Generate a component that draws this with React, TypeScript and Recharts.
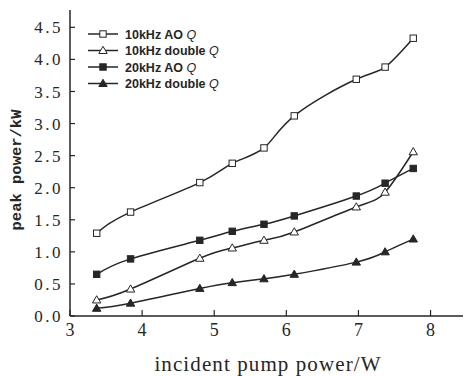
import React from 'react';
import { LineChart, Line, XAxis, YAxis } from 'recharts';

// pump power (W) at which each series was measured
const PUMP_W = [3.37, 3.84, 4.8, 5.25, 5.69, 6.11, 6.97, 7.37, 7.76];
// peak power (kW)
const AO_10K = [1.29, 1.62, 2.08, 2.38, 2.62, 3.12, 3.69, 3.88, 4.33];
const DOUBLE_10K = [0.25, 0.42, 0.9, 1.06, 1.18, 1.31, 1.7, 1.93, 2.56];
const AO_20K = [0.65, 0.89, 1.18, 1.32, 1.43, 1.56, 1.87, 2.07, 2.3];
const DOUBLE_20K = [0.12, 0.2, 0.43, 0.52, 0.58, 0.65, 0.84, 1.0, 1.2];

const X_MAJOR = [3, 4, 5, 6, 7, 8];
const X_MINOR = [3.5, 4.5, 5.5, 6.5, 7.5];
const X_ALL = [3, 3.5, 4, 4.5, 5, 5.5, 6, 6.5, 7, 7.5, 8];
const Y_MAJOR = [0, 0.5, 1, 1.5, 2, 2.5, 3, 3.5, 4, 4.5];
const Y_MINOR = [0.25, 0.75, 1.25, 1.75, 2.25, 2.75, 3.25, 3.75, 4.25];
const Y_ALL = [0, 0.25, 0.5, 0.75, 1, 1.25, 1.5, 1.75, 2, 2.25, 2.5, 2.75, 3, 3.25, 3.5, 3.75, 4, 4.25, 4.5];

const SERIES = [
  { key: 'ao10', name: '10kHz AO', values: AO_10K, shape: 'square', filled: false },
  { key: 'dq10', name: '10kHz double', values: DOUBLE_10K, shape: 'triangle', filled: false },
  { key: 'ao20', name: '20kHz AO', values: AO_20K, shape: 'square', filled: true },
  { key: 'dq20', name: '20kHz double', values: DOUBLE_20K, shape: 'triangle', filled: true },
];

const INK = '#262626';
const W = 467;
const H = 376;
const SERIF = "'Liberation Serif', 'Times New Roman', Times, serif";
const SANS = "'Liberation Sans', Arial, Helvetica, sans-serif";
const MONO = "'Liberation Mono', 'Courier New', Courier, monospace";

const data = PUMP_W.map((x, i) => {
  const row: Record<string, number> = { x };
  SERIES.forEach(s => (row[s.key] = s.values[i]));
  return row;
});

const Marker = ({ cx, cy, shape, filled }: { cx: number; cy: number; shape: string; filled: boolean }) => {
  const fill = filled ? INK : '#fff';
  if (shape === 'square') {
    return <rect x={cx - 3.2} y={cy - 3.2} width={6.4} height={6.4} fill={fill} stroke={INK} strokeWidth={1} />;
  }
  return (
    <polygon
      points={`${cx},${cy - 4.2} ${cx - 4.2},${cy + 3} ${cx + 4.2},${cy + 3}`}
      fill={fill}
      stroke={INK}
      strokeWidth={1}
    />
  );
};

const axisLine = { stroke: INK, strokeWidth: 1.5 };
const tickLine = { stroke: INK, strokeWidth: 1.2 };

export default function App() {
  return (
    <div style={{ position: 'absolute', left: 0, top: 0, width: W, height: H, background: '#fff' }}>
      <LineChart width={W} height={H} data={data} margin={{ top: 10, right: 4, bottom: 0, left: 0 }}>
        <XAxis
          xAxisId="b"
          dataKey="x"
          type="number"
          domain={[3, 8.45]}
          ticks={X_MAJOR}
          allowDataOverflow
          height={60}
          tickSize={-6}
          tickMargin={13}
          axisLine={axisLine}
          tickLine={tickLine}
          tick={{ fill: INK, fontSize: 18, style: { fontFamily: SERIF } }}
        />
        <XAxis
          xAxisId="bm"
          dataKey="x"
          type="number"
          domain={[3, 8.45]}
          ticks={X_MINOR}
          mirror
          tickSize={3}
          tick={false}
          axisLine={false}
          tickLine={tickLine}
        />
        <XAxis
          xAxisId="t"
          orientation="top"
          dataKey="x"
          type="number"
          domain={[3, 8.45]}
          ticks={X_ALL}
          height={0}
          tickSize={-4}
          tick={false}
          axisLine={axisLine}
          tickLine={tickLine}
        />
        <YAxis
          yAxisId="l"
          type="number"
          domain={[0, 4.77]}
          ticks={Y_MAJOR}
          allowDataOverflow
          width={70}
          tickSize={-5}
          tickMargin={12}
          tickFormatter={(v: number) => v.toFixed(1)}
          axisLine={axisLine}
          tickLine={tickLine}
          tick={{ fill: INK, fontSize: 17, style: { fontFamily: SERIF, letterSpacing: '2.5px' } }}
        />
        <YAxis
          yAxisId="lm"
          type="number"
          domain={[0, 4.77]}
          ticks={Y_MINOR}
          mirror
          tickSize={3}
          tick={false}
          axisLine={false}
          tickLine={tickLine}
        />
        <YAxis
          yAxisId="r"
          orientation="right"
          type="number"
          domain={[0, 4.77]}
          ticks={Y_ALL}
          width={0}
          tickSize={-4}
          tick={false}
          axisLine={axisLine}
          tickLine={tickLine}
        />
        {SERIES.map(s => (
          <Line
            key={s.key}
            xAxisId="b"
            yAxisId="l"
            dataKey={s.key}
            type="natural"
            stroke={INK}
            strokeWidth={1.5}
            isAnimationActive={false}
            dot={(p: any) => (
              <Marker key={`${s.key}-${p.index}`} cx={p.cx} cy={p.cy} shape={s.shape} filled={s.filled} />
            )}
          />
        ))}
      </LineChart>

      <svg width={W} height={H} style={{ position: 'absolute', left: 0, top: 0, pointerEvents: 'none' }}>
        {SERIES.map((s, i) => {
          const y = 34 + i * 16.5;
          return (
            <g key={s.key}>
              <line x1={88} x2={118} y1={y} y2={y} stroke={INK} strokeWidth={1.5} />
              <Marker cx={103} cy={y} shape={s.shape} filled={s.filled} />
              <text x={125} y={y + 4.5} fill={INK} fontSize={12.5} fontWeight="bold" style={{ fontFamily: SANS }}>
                {s.name} <tspan fontStyle="italic" fontWeight="normal">Q</tspan>
              </text>
            </g>
          );
        })}
        <text
          x={17}
          y={170}
          transform="rotate(-90 17 170)"
          textAnchor="middle"
          dominantBaseline="central"
          fill={INK}
          fontSize={15.5}
          fontWeight="bold"
          style={{ fontFamily: MONO }}
        >
          peak power/kW
        </text>
        <text
          x={268}
          y={371}
          textAnchor="middle"
          fill={INK}
          fontSize={21}
          style={{ fontFamily: SERIF, letterSpacing: '1.1px' }}
        >
          incident pump power/W
        </text>
      </svg>
    </div>
  );
}
